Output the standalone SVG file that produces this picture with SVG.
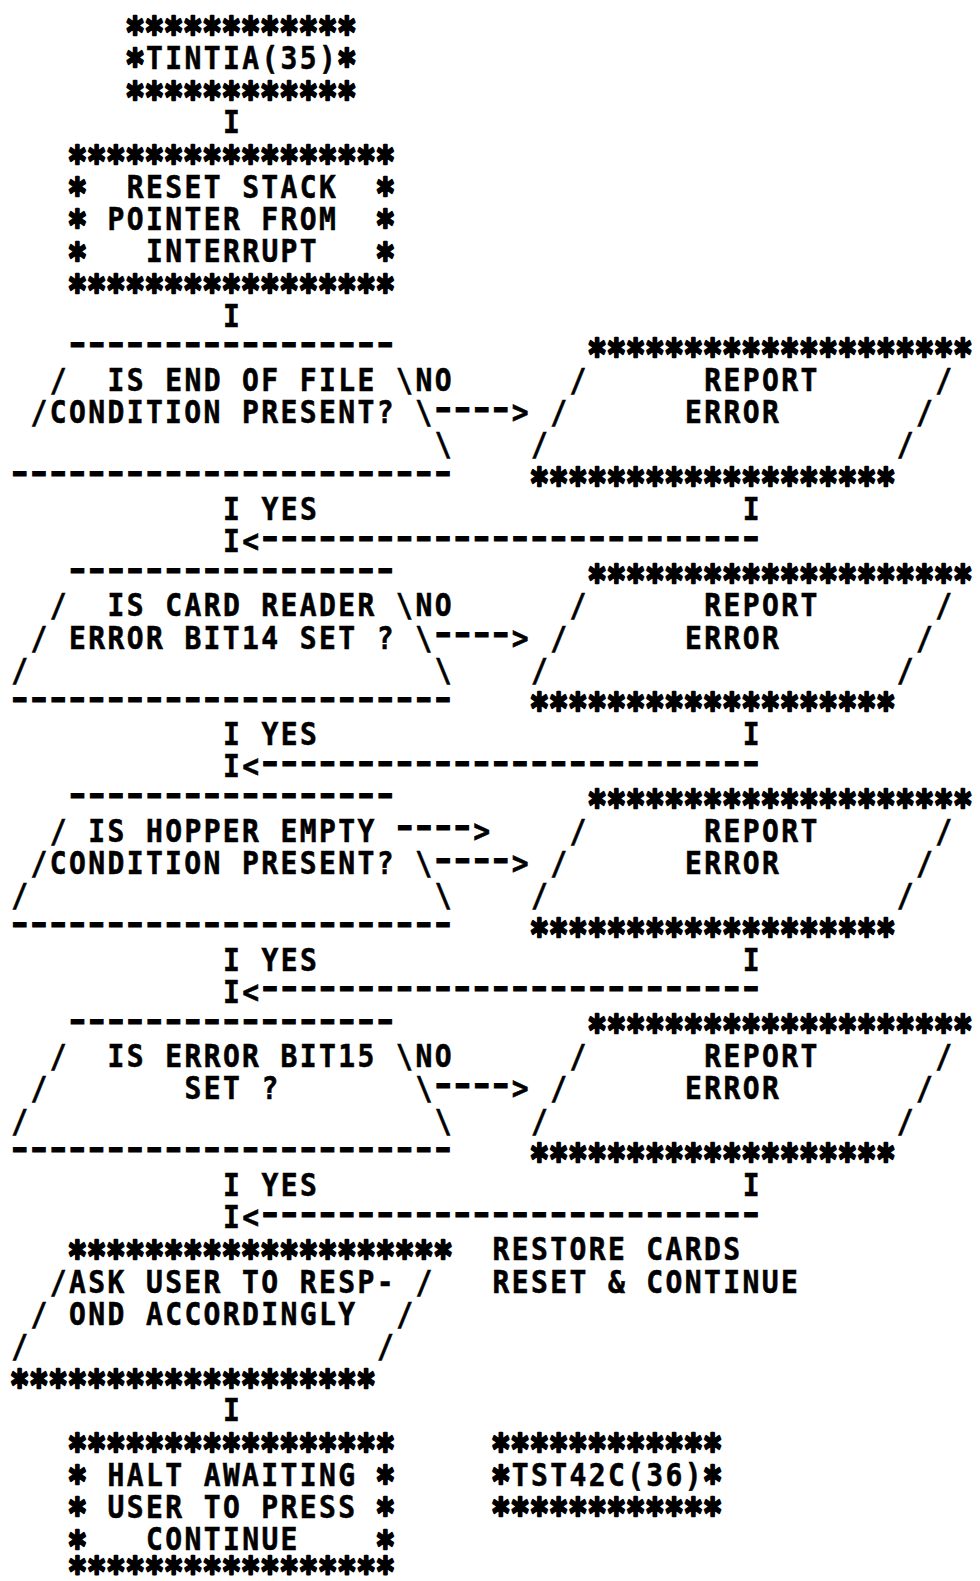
<svg xmlns="http://www.w3.org/2000/svg" width="980" height="1581" viewBox="0 0 980 1581">
<style>
text { fill: #000; white-space: pre; }
.t { font-family: "DejaVu Sans Mono", "Liberation Mono", monospace; font-weight: bold; font-size: 28px; letter-spacing: 2.39px; stroke: #000; stroke-width: 0.5px; }
.s { font-family: "DejaVu Sans Mono", "Liberation Mono", monospace; font-weight: bold; font-size: 31.98px; stroke: #000; stroke-width: 2px; stroke-linejoin: round; }
.d { font-family: "DejaVu Sans Mono", "Liberation Mono", monospace; font-weight: bold; font-size: 28px; letter-spacing: -3.58px; stroke: #000; stroke-width: 0.8px; }
</style>
<rect width="980" height="1581" fill="#fff"/>

<g id="start">
<text class="s" transform="matrix(1 0 0 1.3 125.5 46.1)">************</text>
<text class="s" transform="matrix(1 0 0 1.3 125.5 78.3)">*</text>
<text class="t" transform="matrix(1 0 0 1.15 145.95 69)">TINTIA(35)</text>
<text class="s" transform="matrix(1 0 0 1.3 337.25 78.3)">*</text>
<text class="s" transform="matrix(1 0 0 1.3 125.5 110.5)">************</text>
</g>

<g id="reset-stack">
<text class="s" transform="matrix(1 0 0 1.3 67.75 174.9)">*****************</text>
<text class="s" transform="matrix(1 0 0 1.3 67.75 207.1)">*</text>
<text class="t" transform="matrix(1 0 0 1.15 126.7 197.8)">RESET STACK</text>
<text class="s" transform="matrix(1 0 0 1.3 375.75 207.1)">*</text>
<text class="s" transform="matrix(1 0 0 1.3 67.75 239.3)">*</text>
<text class="t" transform="matrix(1 0 0 1.15 107.45 230)">POINTER FROM</text>
<text class="s" transform="matrix(1 0 0 1.3 375.75 239.3)">*</text>
<text class="s" transform="matrix(1 0 0 1.3 67.75 271.5)">*</text>
<text class="t" transform="matrix(1 0 0 1.15 145.95 262.2)">INTERRUPT</text>
<text class="s" transform="matrix(1 0 0 1.3 375.75 271.5)">*</text>
<text class="s" transform="matrix(1 0 0 1.3 67.75 303.7)">*****************</text>
</g>

<g id="decision-eof">
<text class="d" transform="matrix(1.45 0 0 1.15 65.15 354.3)">-----------------</text>
<text class="t" transform="matrix(1 0 0 1.15 49.7 391)">/</text>
<text class="t" transform="matrix(1 0 0 1.15 107.45 391)">IS END OF FILE \</text>
<text class="t" transform="matrix(1 0 0 1.15 30.45 423.2)">/CONDITION PRESENT? \</text>
<text class="t" transform="matrix(1 0 0 1.15 434.7 455.4)">\</text>
<text class="d" transform="matrix(1.45 0 0 1.15 7.4 483.1)">-----------------------</text>
</g>

<g id="report-error-1">
<text class="s" transform="matrix(1 0 0 1.3 587.5 368.1)">********************</text>
<text class="t" transform="matrix(1 0 0 1.15 569.45 391)">/</text>
<text class="t" transform="matrix(1 0 0 1.15 704.2 391)">REPORT</text>
<text class="t" transform="matrix(1 0 0 1.15 935.2 391)">/</text>
<text class="t" transform="matrix(1 0 0 1.15 550.2 423.2)">/</text>
<text class="t" transform="matrix(1 0 0 1.15 684.95 423.2)">ERROR</text>
<text class="t" transform="matrix(1 0 0 1.15 915.95 423.2)">/</text>
<text class="t" transform="matrix(1 0 0 1.15 530.95 455.4)">/</text>
<text class="t" transform="matrix(1 0 0 1.15 896.7 455.4)">/</text>
<text class="s" transform="matrix(1 0 0 1.3 529.75 496.9)">*******************</text>
</g>

<g id="decision-card-reader">
<text class="d" transform="matrix(1.45 0 0 1.15 65.15 579.7)">-----------------</text>
<text class="t" transform="matrix(1 0 0 1.15 49.7 616.4)">/</text>
<text class="t" transform="matrix(1 0 0 1.15 107.45 616.4)">IS CARD READER \</text>
<text class="t" transform="matrix(1 0 0 1.15 30.45 648.6)">/</text>
<text class="t" transform="matrix(1 0 0 1.15 68.95 648.6)">ERROR BIT14 SET ? \</text>
<text class="t" transform="matrix(1 0 0 1.15 11.2 680.8)">/</text>
<text class="t" transform="matrix(1 0 0 1.15 434.7 680.8)">\</text>
<text class="d" transform="matrix(1.45 0 0 1.15 7.4 708.5)">-----------------------</text>
</g>

<g id="report-error-2">
<text class="s" transform="matrix(1 0 0 1.3 587.5 593.5)">********************</text>
<text class="t" transform="matrix(1 0 0 1.15 569.45 616.4)">/</text>
<text class="t" transform="matrix(1 0 0 1.15 704.2 616.4)">REPORT</text>
<text class="t" transform="matrix(1 0 0 1.15 935.2 616.4)">/</text>
<text class="t" transform="matrix(1 0 0 1.15 550.2 648.6)">/</text>
<text class="t" transform="matrix(1 0 0 1.15 684.95 648.6)">ERROR</text>
<text class="t" transform="matrix(1 0 0 1.15 915.95 648.6)">/</text>
<text class="t" transform="matrix(1 0 0 1.15 530.95 680.8)">/</text>
<text class="t" transform="matrix(1 0 0 1.15 896.7 680.8)">/</text>
<text class="s" transform="matrix(1 0 0 1.3 529.75 722.3)">*******************</text>
</g>

<g id="decision-hopper">
<text class="d" transform="matrix(1.45 0 0 1.15 65.15 805.1)">-----------------</text>
<text class="t" transform="matrix(1 0 0 1.15 49.7 841.8)">/</text>
<text class="t" transform="matrix(1 0 0 1.15 88.2 841.8)">IS HOPPER EMPTY</text>
<text class="t" transform="matrix(1 0 0 1.15 30.45 874)">/CONDITION PRESENT? \</text>
<text class="t" transform="matrix(1 0 0 1.15 11.2 906.2)">/</text>
<text class="t" transform="matrix(1 0 0 1.15 434.7 906.2)">\</text>
<text class="d" transform="matrix(1.45 0 0 1.15 7.4 933.9)">-----------------------</text>
</g>

<g id="report-error-3">
<text class="s" transform="matrix(1 0 0 1.3 587.5 818.9)">********************</text>
<text class="t" transform="matrix(1 0 0 1.15 569.45 841.8)">/</text>
<text class="t" transform="matrix(1 0 0 1.15 704.2 841.8)">REPORT</text>
<text class="t" transform="matrix(1 0 0 1.15 935.2 841.8)">/</text>
<text class="t" transform="matrix(1 0 0 1.15 550.2 874)">/</text>
<text class="t" transform="matrix(1 0 0 1.15 684.95 874)">ERROR</text>
<text class="t" transform="matrix(1 0 0 1.15 915.95 874)">/</text>
<text class="t" transform="matrix(1 0 0 1.15 530.95 906.2)">/</text>
<text class="t" transform="matrix(1 0 0 1.15 896.7 906.2)">/</text>
<text class="s" transform="matrix(1 0 0 1.3 529.75 947.7)">*******************</text>
</g>

<g id="decision-bit15">
<text class="d" transform="matrix(1.45 0 0 1.15 65.15 1030.5)">-----------------</text>
<text class="t" transform="matrix(1 0 0 1.15 49.7 1067.2)">/</text>
<text class="t" transform="matrix(1 0 0 1.15 107.45 1067.2)">IS ERROR BIT15 \</text>
<text class="t" transform="matrix(1 0 0 1.15 30.45 1099.4)">/</text>
<text class="t" transform="matrix(1 0 0 1.15 184.45 1099.4)">SET ?</text>
<text class="t" transform="matrix(1 0 0 1.15 415.45 1099.4)">\</text>
<text class="t" transform="matrix(1 0 0 1.15 11.2 1131.6)">/</text>
<text class="t" transform="matrix(1 0 0 1.15 434.7 1131.6)">\</text>
<text class="d" transform="matrix(1.45 0 0 1.15 7.4 1159.3)">-----------------------</text>
</g>

<g id="report-error-4">
<text class="s" transform="matrix(1 0 0 1.3 587.5 1044.3)">********************</text>
<text class="t" transform="matrix(1 0 0 1.15 569.45 1067.2)">/</text>
<text class="t" transform="matrix(1 0 0 1.15 704.2 1067.2)">REPORT</text>
<text class="t" transform="matrix(1 0 0 1.15 935.2 1067.2)">/</text>
<text class="t" transform="matrix(1 0 0 1.15 550.2 1099.4)">/</text>
<text class="t" transform="matrix(1 0 0 1.15 684.95 1099.4)">ERROR</text>
<text class="t" transform="matrix(1 0 0 1.15 915.95 1099.4)">/</text>
<text class="t" transform="matrix(1 0 0 1.15 530.95 1131.6)">/</text>
<text class="t" transform="matrix(1 0 0 1.15 896.7 1131.6)">/</text>
<text class="s" transform="matrix(1 0 0 1.3 529.75 1173.1)">*******************</text>
</g>

<g id="ask-user">
<text class="s" transform="matrix(1 0 0 1.3 67.75 1269.7)">********************</text>
<text class="t" transform="matrix(1 0 0 1.15 49.7 1292.6)">/ASK USER TO RESP-</text>
<text class="t" transform="matrix(1 0 0 1.15 415.45 1292.6)">/</text>
<text class="t" transform="matrix(1 0 0 1.15 30.45 1324.8)">/</text>
<text class="t" transform="matrix(1 0 0 1.15 68.95 1324.8)">OND ACCORDINGLY</text>
<text class="t" transform="matrix(1 0 0 1.15 396.2 1324.8)">/</text>
<text class="t" transform="matrix(1 0 0 1.15 11.2 1357)">/</text>
<text class="t" transform="matrix(1 0 0 1.15 376.95 1357)">/</text>
<text class="s" transform="matrix(1 0 0 1.3 10 1398.5)">*******************</text>
</g>

<g id="restore-note">
<text class="t" transform="matrix(1 0 0 1.15 492.45 1260.4)">RESTORE CARDS</text>
<text class="t" transform="matrix(1 0 0 1.15 492.45 1292.6)">RESET &amp; CONTINUE</text>
</g>

<g id="halt">
<text class="s" transform="matrix(1 0 0 1.3 67.75 1462.9)">*****************</text>
<text class="s" transform="matrix(1 0 0 1.3 67.75 1495.1)">*</text>
<text class="t" transform="matrix(1 0 0 1.15 107.45 1485.8)">HALT AWAITING</text>
<text class="s" transform="matrix(1 0 0 1.3 375.75 1495.1)">*</text>
<text class="s" transform="matrix(1 0 0 1.3 67.75 1527.3)">*</text>
<text class="t" transform="matrix(1 0 0 1.15 107.45 1518)">USER TO PRESS</text>
<text class="s" transform="matrix(1 0 0 1.3 375.75 1527.3)">*</text>
<text class="s" transform="matrix(1 0 0 1.3 67.75 1559.5)">*</text>
<text class="t" transform="matrix(1 0 0 1.15 145.95 1550.2)">CONTINUE</text>
<text class="s" transform="matrix(1 0 0 1.3 375.75 1559.5)">*</text>
<text class="s" transform="matrix(-1 0 0 -1.2 395 1545)">*****************</text>
</g>

<g id="tst42c">
<text class="s" transform="matrix(1 0 0 1.3 491.25 1462.9)">************</text>
<text class="s" transform="matrix(1 0 0 1.3 491.25 1495.1)">*</text>
<text class="t" transform="matrix(1 0 0 1.15 511.7 1485.8)">TST42C(36)</text>
<text class="s" transform="matrix(1 0 0 1.3 703 1495.1)">*</text>
<text class="s" transform="matrix(1 0 0 1.3 491.25 1527.3)">************</text>
</g>

<g id="connectors">
<text class="t" transform="matrix(1 0 0 1.15 222.95 133.4)">I</text>
<text class="t" transform="matrix(1 0 0 1.15 222.95 326.6)">I</text>
<text class="t" transform="matrix(1 0 0 1.15 415.45 391)">NO</text>
<text class="d" transform="matrix(1.45 0 0 1.15 430.9 418.7)">----</text>
<text class="t" transform="matrix(1 0 0 1.15 511.7 423.2)">&gt;</text>
<text class="t" transform="matrix(1 0 0 1.15 222.95 519.8)">I</text>
<text class="t" transform="matrix(1 0 0 1.15 261.45 519.8)">YES</text>
<text class="t" transform="matrix(1 0 0 1.15 742.7 519.8)">I</text>
<text class="t" transform="matrix(1 0 0 1.15 222.95 552)">I</text>
<text class="t" transform="matrix(1 0 0 1.15 242.2 552)">&lt;</text>
<text class="d" transform="matrix(1.45 0 0 1.15 257.65 547.5)">--------------------------</text>
<text class="t" transform="matrix(1 0 0 1.15 415.45 616.4)">NO</text>
<text class="d" transform="matrix(1.45 0 0 1.15 430.9 644.1)">----</text>
<text class="t" transform="matrix(1 0 0 1.15 511.7 648.6)">&gt;</text>
<text class="t" transform="matrix(1 0 0 1.15 222.95 745.2)">I</text>
<text class="t" transform="matrix(1 0 0 1.15 261.45 745.2)">YES</text>
<text class="t" transform="matrix(1 0 0 1.15 742.7 745.2)">I</text>
<text class="t" transform="matrix(1 0 0 1.15 222.95 777.4)">I</text>
<text class="t" transform="matrix(1 0 0 1.15 242.2 777.4)">&lt;</text>
<text class="d" transform="matrix(1.45 0 0 1.15 257.65 772.9)">--------------------------</text>
<text class="d" transform="matrix(1.45 0 0 1.15 392.4 837.3)">----</text>
<text class="t" transform="matrix(1 0 0 1.15 473.2 841.8)">&gt;</text>
<text class="d" transform="matrix(1.45 0 0 1.15 430.9 869.5)">----</text>
<text class="t" transform="matrix(1 0 0 1.15 511.7 874)">&gt;</text>
<text class="t" transform="matrix(1 0 0 1.15 222.95 970.6)">I</text>
<text class="t" transform="matrix(1 0 0 1.15 261.45 970.6)">YES</text>
<text class="t" transform="matrix(1 0 0 1.15 742.7 970.6)">I</text>
<text class="t" transform="matrix(1 0 0 1.15 222.95 1002.8)">I</text>
<text class="t" transform="matrix(1 0 0 1.15 242.2 1002.8)">&lt;</text>
<text class="d" transform="matrix(1.45 0 0 1.15 257.65 998.3)">--------------------------</text>
<text class="t" transform="matrix(1 0 0 1.15 415.45 1067.2)">NO</text>
<text class="d" transform="matrix(1.45 0 0 1.15 430.9 1094.9)">----</text>
<text class="t" transform="matrix(1 0 0 1.15 511.7 1099.4)">&gt;</text>
<text class="t" transform="matrix(1 0 0 1.15 222.95 1196)">I</text>
<text class="t" transform="matrix(1 0 0 1.15 261.45 1196)">YES</text>
<text class="t" transform="matrix(1 0 0 1.15 742.7 1196)">I</text>
<text class="t" transform="matrix(1 0 0 1.15 222.95 1228.2)">I</text>
<text class="t" transform="matrix(1 0 0 1.15 242.2 1228.2)">&lt;</text>
<text class="d" transform="matrix(1.45 0 0 1.15 257.65 1223.7)">--------------------------</text>
<text class="t" transform="matrix(1 0 0 1.15 222.95 1421.4)">I</text>
</g>
</svg>
